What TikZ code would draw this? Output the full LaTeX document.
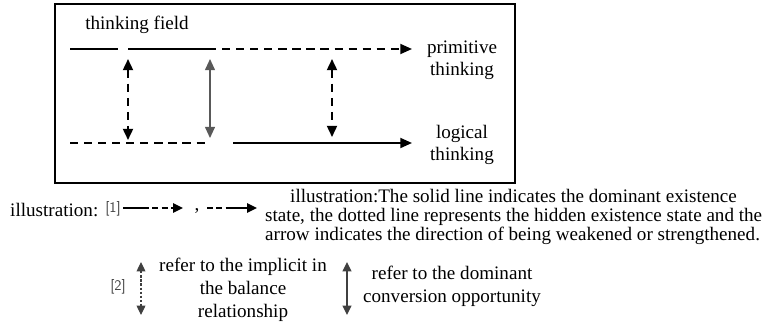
\documentclass[tikz,border=0pt]{standalone}
\usepackage{fontspec}
\setmainfont{Liberation Serif}
\usetikzlibrary{positioning, calc, arrows.meta}

\begin{document}
\begin{tikzpicture}[x=0.03cm, y=-0.03cm,
    every node/.style={font=\fontsize{16.3}{18}\selectfont, inner sep=0pt},
    solidline/.style={line width=1.7pt},
    dashline/.style={line width=1.7pt, dash pattern=on 7pt off 5pt},
    tip/.style={-{Triangle[length=10pt,width=8.5pt]}},
    twotip/.style={{Triangle[length=9.5pt,width=8.5pt]}-{Triangle[length=9.5pt,width=8.5pt]}},
    smalltip/.style={-{Triangle[length=8.5pt,width=8pt]}},
    twosmall/.style={{Triangle[length=8pt,width=7.5pt]}-{Triangle[length=8pt,width=7.5pt]}},
    tag/.style={font=\sffamily\fontsize{12.5}{14}\selectfont, text=black!75}]
    \useasboundingbox (0,0) rectangle (764,326);
    % frame
    \draw[line width=1.8pt] (55,4) rectangle (515,183);
    % field lines
    \coordinate (t0) at (70,49);  \coordinate (t1) at (118,49);
    \coordinate (t2) at (128,49); \coordinate (t3) at (208,49);
    \coordinate (t4) at (412,49);
    \coordinate (b0) at (70,143);  \coordinate (b1) at (208,143);
    \coordinate (b2) at (233,143); \coordinate (b3) at (412,143);
    \draw[solidline] (t0) -- (t1);
    \draw[solidline] (t2) -- (t3);
    \draw[dashline, tip] (t3) -- (t4);
    \draw[dashline] (b0) -- (b1);
    \draw[solidline, tip] (b2) -- (b3);
    % conversions
    \coordinate (v1a) at (128,59);  \coordinate (v1b) at (128,140);
    \coordinate (v2a) at (210,59);  \coordinate (v2b) at (210,138);
    \coordinate (v3a) at (332,59);  \coordinate (v3b) at (332,137);
    \draw[dashline, twotip] (v1a) -- (v1b);
    \draw[line width=1.1pt, black!65, twotip] (v2a) -- (v2b);
    \draw[dashline, twotip] (v3a) -- (v3b);
    % labels
    \node (field) at (137,25) {thinking field};
    \node[align=center, font=\fontsize{16.3}{18.7}\selectfont] (primitive) at (462,60) {primitive\\thinking};
    \node[align=center, font=\fontsize{16.3}{18.7}\selectfont] (logical) at (462,145) {logical\\thinking};
    % legend
    \node[anchor=west] (illus) at (10,210) {illustration:};
    \node[tag] (one) at (113,209) {[1]};
    \coordinate (a1s) at (123,208); \coordinate (a1m) at (143,208); \coordinate (a1e) at (183,208);
    \draw[line width=1.1pt] (a1s) -- (a1m);
    \draw[line width=1.1pt, dash pattern=on 5pt off 3pt, smalltip] (a1m) -- (a1e);
    \node (comma) at (197,211) {,};
    \coordinate (a2s) at (207,208); \coordinate (a2m) at (231,208); \coordinate (a2e) at (257,208);
    \draw[line width=1.1pt, dash pattern=on 5pt off 3pt] (a2s) -- (a2m);
    \draw[line width=1.1pt, smalltip] (a2m) -- (a2e);
    \node[anchor=west, align=left, font=\fontsize{16.3}{16}\selectfont] (note) at (265,217)
        {\hspace*{0.75cm}illustration:The solid line indicates the dominant existence\\
         state, the dotted line represents the hidden existence state and the\\
         arrow indicates the direction of being weakened or strengthened.};
    \node[tag] (two) at (118,287) {[2]};
    \coordinate (d2a) at (141,262); \coordinate (d2b) at (141,315);
    \draw[line width=0.9pt, black!75, dash pattern=on 2pt off 1.5pt, twosmall] (d2a) -- (d2b);
    \node[align=center, font=\fontsize{16.3}{19.5}\selectfont] (implicit) at (243,290)
        {refer to the implicit in\\the balance\\relationship};
    \coordinate (s2a) at (347,262); \coordinate (s2b) at (347,315);
    \draw[line width=1.1pt, black!75, twosmall] (s2a) -- (s2b);
    \node[align=center, font=\fontsize{16.3}{19.5}\selectfont] (dominant) at (452,286)
        {refer to the dominant\\conversion opportunity};
\end{tikzpicture}
\end{document}
